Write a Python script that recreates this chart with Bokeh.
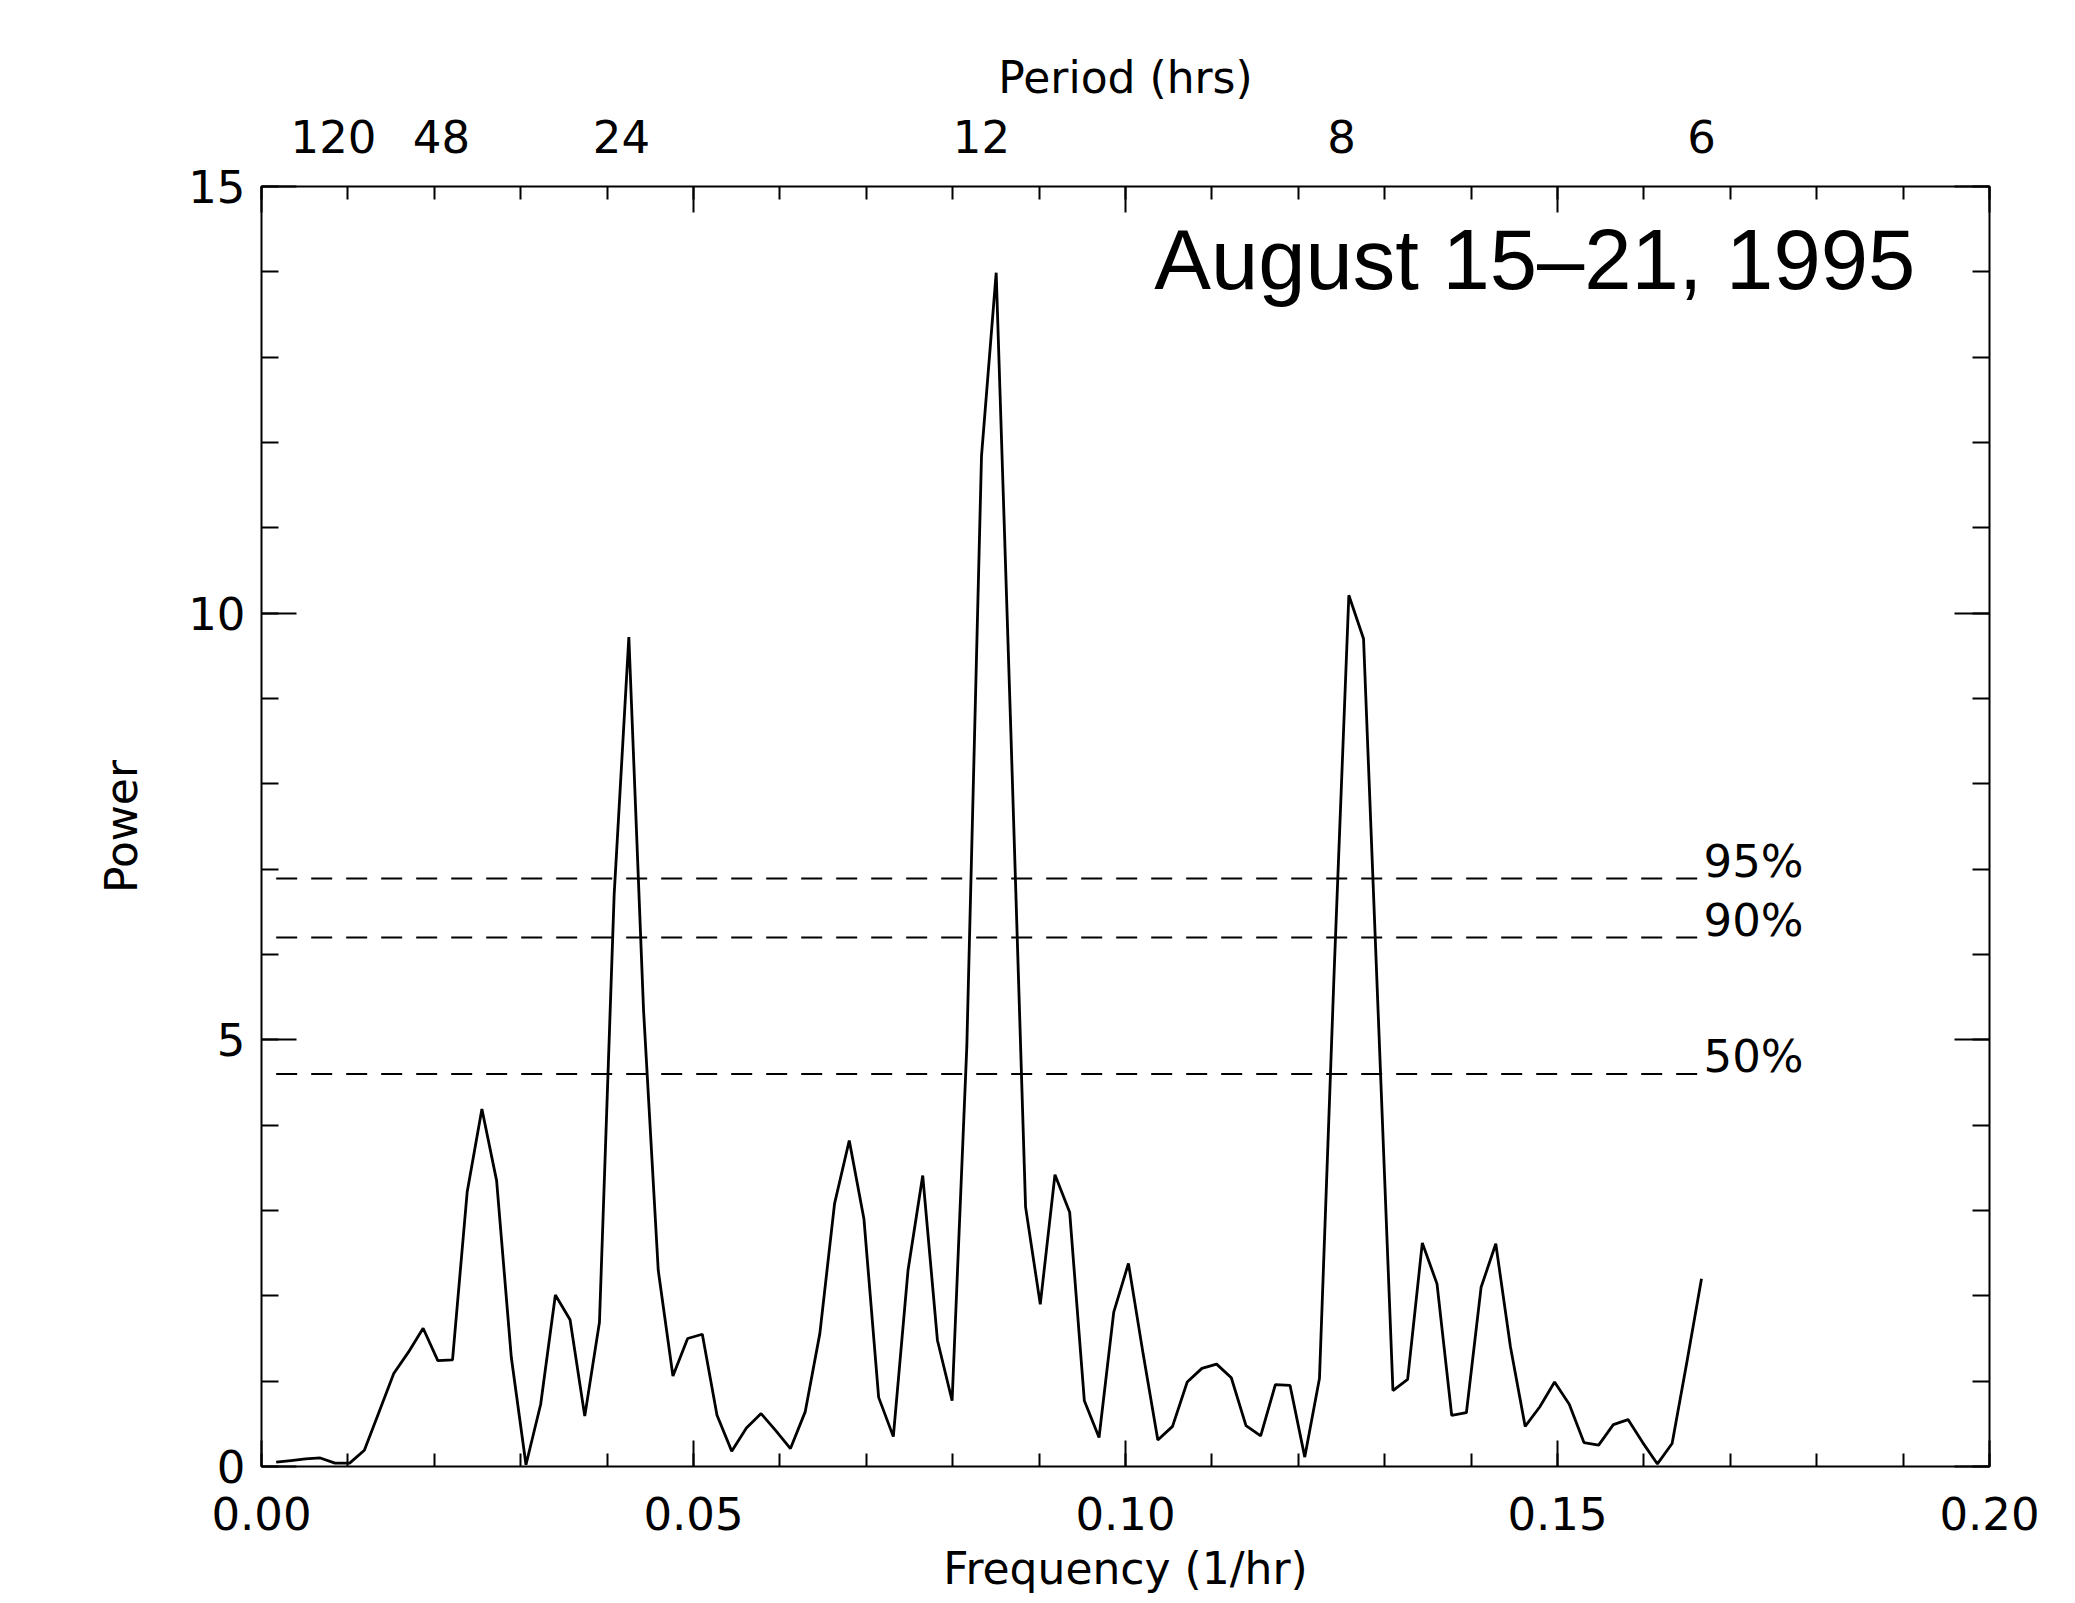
from bokeh.plotting import figure
from bokeh.models import (Range1d, LinearAxis, SingleIntervalTicker, FixedTicker,
                          Label, PrintfTickFormatter, CustomJSTickFormatter)
from bokeh.embed import file_html
from bokeh.resources import INLINE

# ---------------- data ----------------
# periodogram frequency grid: k / 588 (1/hr), k = 1..98  (last point = 1/6 hr^-1)
GRID_DEN = 588
freq = [k / GRID_DEN for k in range(1, 99)]

power = [
    0.05, 0.07, 0.09, 0.10, 0.04, 0.04, 0.19, 0.64, 1.09, 1.34,
    1.62, 1.24, 1.25, 3.22, 4.19, 3.35, 1.28, 0.02, 0.73, 2.01,
    1.72, 0.59, 1.69, 6.70, 9.72, 5.35, 2.30, 1.06, 1.50, 1.55,
    0.60, 0.18, 0.45, 0.62, 0.42, 0.21, 0.64, 1.56, 3.08, 3.82,
    2.90, 0.81, 0.35, 2.30, 3.41, 1.48, 0.77, 4.92, 11.84, 13.99,
    8.60, 3.04, 1.90, 3.42, 2.98, 0.77, 0.34, 1.81, 2.38, 1.32,
    0.31, 0.47, 0.99, 1.15, 1.20, 1.04, 0.48, 0.36, 0.96, 0.95,
    0.11, 1.03, 5.80, 10.21, 9.70, 5.30, 0.89, 1.02, 2.62, 2.14,
    0.60, 0.63, 2.10, 2.61, 1.40, 0.47, 0.70, 0.99, 0.73, 0.28,
    0.25, 0.49, 0.55, 0.28, 0.03, 0.27, 1.22, 2.20,
]

sig_levels = [6.89, 6.20, 4.60]
sig_labels = ["95%", "90%", "50%"]

period_hours = [120, 48, 24, 12, 8, 6]

x_label = "Frequency (1/hr)"
y_label = "Power"
top_label = "Period (hrs)"
title_text = "August 15\u201321, 1995"

# ---------------- style ----------------
FONT = "DejaVu Sans"
TICK_FS = "45px"
LABEL_FS = "44px"

p = figure(frame_width=1728, frame_height=1280,
           x_range=Range1d(0, 0.2), y_range=Range1d(0, 15),
           output_backend="svg", toolbar_location=None,
           min_border_left=261, min_border_right=78,
           min_border_top=186, min_border_bottom=130,
           background_fill_color="white", border_fill_color="white")
p.xgrid.visible = False
p.ygrid.visible = False
p.outline_line_color = "black"
p.outline_line_width = 2


def style(ax, major_in, minor_in):
    ax.axis_line_color = None
    ax.major_tick_in = major_in
    ax.minor_tick_in = minor_in
    ax.major_tick_out = 0
    ax.minor_tick_out = 0
    ax.major_tick_line_width = 2
    ax.minor_tick_line_width = 2
    ax.major_tick_line_color = "black"
    ax.minor_tick_line_color = "black"
    ax.major_label_text_font = FONT
    ax.major_label_text_font_size = TICK_FS
    ax.major_label_text_color = "black"
    ax.axis_label_text_font = FONT
    ax.axis_label_text_font_size = LABEL_FS
    ax.axis_label_text_font_style = "normal"
    ax.axis_label_text_color = "black"


blank = CustomJSTickFormatter(code="return '';")

# bottom axis
xb = p.xaxis[0]
xb.ticker = SingleIntervalTicker(interval=0.05, num_minor_ticks=5)
xb.formatter = PrintfTickFormatter(format="%.2f")
style(xb, 26, 13)
xb.major_label_standoff = 30
xb.axis_label = x_label
xb.axis_label_standoff = 10

# left axis
yl = p.yaxis[0]
yl.ticker = SingleIntervalTicker(interval=5, num_minor_ticks=5)
style(yl, 35, 17)
yl.major_label_standoff = 16
yl.axis_label = y_label
yl.axis_label_standoff = 38

# right axis (ticks only)
yr = LinearAxis(ticker=SingleIntervalTicker(interval=5, num_minor_ticks=5), formatter=blank)
style(yr, 35, 17)
yr.major_label_text_font_size = "0px"
yr.major_label_standoff = 0
p.add_layout(yr, "right")

# top axis with frequency ticks (ticks only)
xt = LinearAxis(ticker=SingleIntervalTicker(interval=0.05, num_minor_ticks=5), formatter=blank)
style(xt, 26, 13)
xt.major_label_text_font_size = "0px"
xt.major_label_standoff = 0
p.add_layout(xt, "above")

# top axis with period labels
xp = LinearAxis(ticker=FixedTicker(ticks=[1.0 / h for h in period_hours]),
                formatter=CustomJSTickFormatter(code="return Math.round(1/tick).toString();"))
style(xp, 0, 0)
xp.major_tick_line_color = None
xp.minor_tick_line_color = None
xp.major_label_standoff = 34
xp.axis_label = top_label
xp.axis_label_standoff = 14
p.add_layout(xp, "above")

# periodogram
p.line(freq, power, line_color="black", line_width=2.8)

# significance levels
for lvl, lab in zip(sig_levels, sig_labels):
    p.line([freq[0], freq[-1]], [lvl, lvl], line_color="black", line_width=2.0,
           line_dash="21 14")
    p.add_layout(Label(x=freq[-1], y=lvl, text=lab, x_offset=2, y_offset=17,
                       text_baseline="middle", text_align="left",
                       text_font=FONT, text_font_size=TICK_FS, text_color="black"))

# title inside plot
p.add_layout(Label(x=0.1914, y=14.15, text=title_text, text_align="right",
                   text_baseline="middle", text_font="Liberation Sans",
                   text_font_size="85px", text_color="black"))

open("out.html", "w").write(file_html(p, INLINE))
